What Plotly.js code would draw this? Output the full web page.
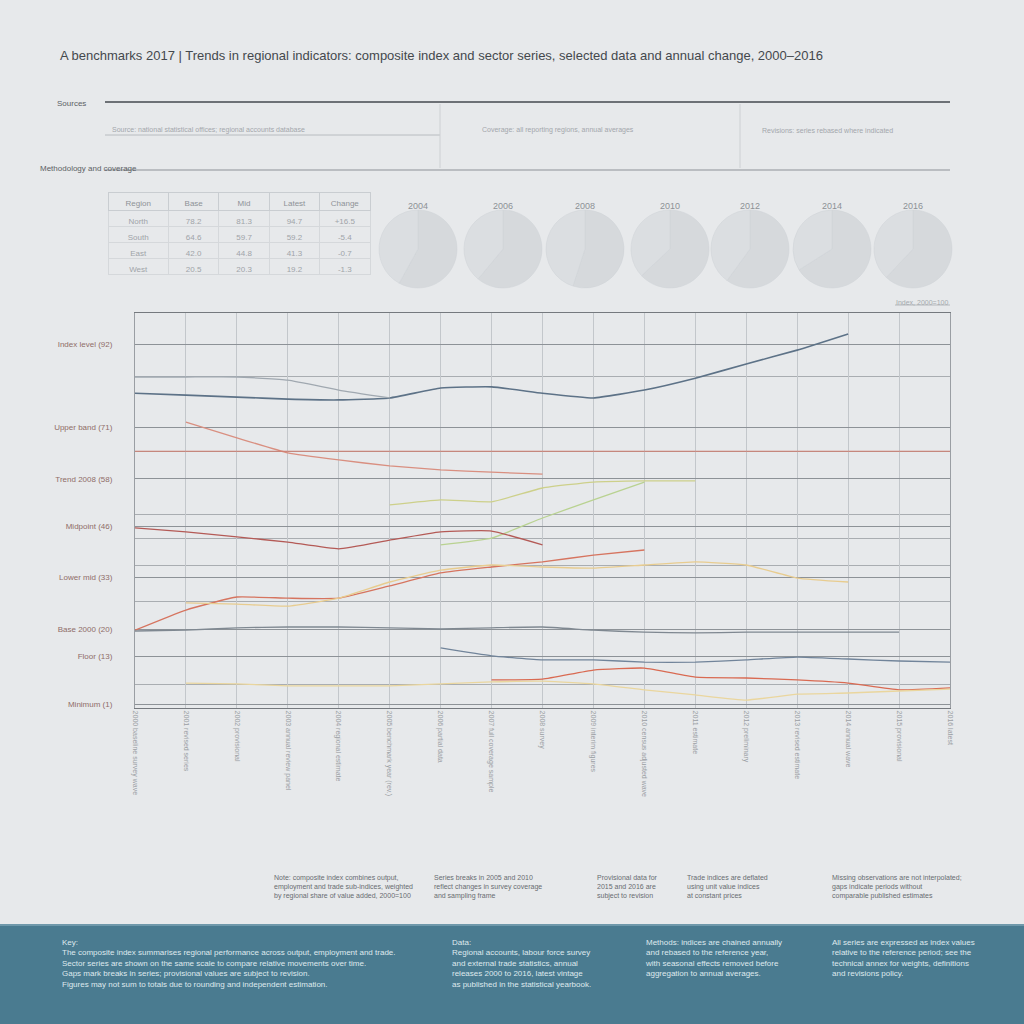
<!DOCTYPE html>
<html>
<head>
<meta charset="utf-8">
<script src="https://cdn.plot.ly/plotly-3.0.1.min.js"></script>
<style>
  html, body { margin: 0; padding: 0; background: #e7e9eb; }
  #grafico { width: 1024px; height: 1024px; }
</style>
</head>
<body>
<div id="grafico"></div>
<script>
// Datos del gráfico
const years = [2000, 2001, 2002, 2003, 2004, 2005, 2006, 2007, 2008, 2009, 2010, 2011, 2012, 2013, 2014, 2015, 2016];
const yearLabels = [
    "2000 baseline survey wave", "2001 revised series", "2002 provisional", "2003 annual review panel",
    "2004 regional estimate", "2005 benchmark year (rev.)", "2006 partial data", "2007 full coverage sample",
    "2008 survey", "2009 interim figures", "2010 census adjusted wave", "2011 estimate",
    "2012 preliminary", "2013 revised estimate", "2014 annual wave", "2015 provisional", "2016 latest"
];

const seriesNames = ["Composite index", "Composite (revised)", "Manufacturing", "Services", "Services (adj.)",
    "Construction", "Exports", "Imports", "Agriculture", "Energy", "Retail", "Transport"];
const composite = [79.7, 79.2, 78.7, 78.2, 78.0, 78.5, 81.0, 81.3, 79.7, 78.5, 80.5, 83.5, 87.1, 90.6, 94.7, null, null];
const compositeRev = [83.8, 83.8, 83.8, 83.0, 80.5, 78.5, null, null, null, null, null, null, null, null, null, null, null];
const manufacturing = [null, 72.4, 68.4, 64.6, 62.8, 61.3, 60.3, 59.7, 59.2, null, null, null, null, null, null, null, null];
const services = [null, null, null, null, null, 51.4, 52.7, 52.2, 55.7, 57.2, 57.5, 57.5, null, null, null, null, null];
const servicesAdj = [null, null, null, null, null, null, 41.3, 43.0, 48.1, 52.7, 57.2, null, null, null, null, null, null];
const construction = [45.6, 44.6, 43.3, 42.0, 40.3, 42.5, 44.6, 44.8, 41.3, null, null, null, null, null, null, null, null];
const exportsIdx = [19.7, 24.8, 28.1, 27.8, 27.8, 30.9, 34.2, 35.7, 37.0, 38.7, 40.0, null, null, null, null, null, null];
const importsIdx = [null, 26.6, 26.3, 25.8, 27.8, 31.9, 34.9, 36.2, 35.7, 35.4, 36.2, 37.0, 36.2, 32.9, 31.9, null, null];
const agriculture = [19.5, 19.7, 20.3, 20.5, 20.5, 20.3, 20.0, 20.3, 20.5, 19.7, 19.2, 19.0, 19.2, 19.2, 19.2, 19.2, null];
const energy = [null, null, null, null, null, null, 15.2, 13.2, 12.2, 12.2, 11.6, 11.6, 12.2, 12.9, 12.4, 11.9, 11.6];
const retail = [null, null, null, null, null, null, null, 7.1, 7.3, 9.6, 10.1, 7.8, 7.6, 7.1, 6.3, 4.6, 5.1];
const transport = [null, 6.3, 6.1, 5.6, 5.6, 5.6, 6.1, 6.6, 6.8, 6.1, 4.6, 3.3, 2.0, 3.5, 3.8, 4.3, 4.8];
const seriesValues = [composite, compositeRev, manufacturing, services, servicesAdj, construction,
    exportsIdx, importsIdx, agriculture, energy, retail, transport];
const seriesColors = ["#5d7287", "#a0a8b0", "#d98f80", "#cdd08a", "#b9d291", "#b45a56",
    "#d6745f", "#e8cc8f", "#7f8891", "#71849a", "#d96a52", "#ead69e"];

const yTickVals = [92, 71, 58, 46, 33, 20, 13, 1];
const yTickText = ["Index level (92)", "Upper band (71)", "Trend 2008 (58)", "Midpoint (46)",
    "Lower mid (33)", "Base 2000 (20)", "Floor (13)", "Minimum (1)"];
const yExtraLevels = [84, 65, 49, 43, 36, 27, 6];
const refLevel = 65;

const pieTitles = ["2004", "2006", "2008", "2010", "2012", "2014", "2016"];
const pieShares = [[58, 42], [61, 39], [55, 45], [63, 37], [60, 40], [66, 34], [62, 38]];

const tableHeader = ["Region", "Base", "Mid", "Latest", "Change"];
const tableCells = [
    ["North", "South", "East", "West"],
    ["78.2", "64.6", "42.0", "20.5"],
    ["81.3", "59.7", "44.8", "20.3"],
    ["94.7", "59.2", "41.3", "19.2"],
    ["+16.5", "-5.4", "-0.7", "-1.3"]
];

const topNotes = [
    "Source: national statistical offices; regional accounts database",
    "Coverage: all reporting regions, annual averages",
    "Revisions: series rebased where indicated"
];
const bottomNotes = [
    "Note: composite index combines output,<br>employment and trade sub-indices, weighted<br>by regional share of value added, 2000=100",
    "Series breaks in 2005 and 2010<br>reflect changes in survey coverage<br>and sampling frame",
    "Provisional data for<br>2015 and 2016 are<br>subject to revision",
    "Trade indices are deflated<br>using unit value indices<br>at constant prices",
    "Missing observations are not interpolated;<br>gaps indicate periods without<br>comparable published estimates"
];
const footerTexts = [
    "Key:<br>The composite index summarises regional performance across output, employment and trade.<br>Sector series are shown on the same scale to compare relative movements over time.<br>Gaps mark breaks in series; provisional values are subject to revision.<br>Figures may not sum to totals due to rounding and independent estimation.",
    "Data:<br>Regional accounts, labour force survey<br>and external trade statistics, annual<br>releases 2000 to 2016, latest vintage<br>as published in the statistical yearbook.",
    "Methods: indices are chained annually<br>and rebased to the reference year,<br>with seasonal effects removed before<br>aggregation to annual averages.",
    "All series are expressed as index values<br>relative to the reference period; see the<br>technical annex for weights, definitions<br>and revisions policy."
];

// Posiciones en píxeles convertidas a coordenadas de papel
const W = 1024;
const px = v => v / W;
const py = v => 1 - v / W;

const traces = [];
seriesValues.forEach((vals, i) => {
    traces.push({
        x: years,
        y: vals,
        type: 'scatter',
        mode: 'lines',
        name: seriesNames[i],
        line: { color: seriesColors[i], width: i === 0 ? 1.6 : 1.3, shape: 'spline', smoothing: 0.4 },
        connectgaps: false,
        hoverinfo: 'x+y+name'
    });
});

// Referencia horizontal
traces.push({
    x: [years[0], years[years.length - 1]],
    y: [refLevel, refLevel],
    type: 'scatter',
    mode: 'lines',
    line: { color: '#cf7b6c', width: 1.2 },
    hoverinfo: 'skip'
});

// Círculos como gráficos de pastel
const pieCenters = [418, 503, 585, 670, 750, 832, 913];
pieCenters.forEach((cx, i) => {
    traces.push({
        type: 'pie',
        values: pieShares[i],
        labels: ["Share", "Other"],
        sort: false,
        textinfo: 'none',
        hoverinfo: 'label+percent',
        marker: { colors: ['#d6d9dc', '#dbdee1'], line: { color: '#cfd2d6', width: 0.5 } },
        domain: { x: [px(cx - 41), px(cx + 41)], y: [py(288), py(200)] },
        title: { text: pieTitles[i], position: 'top center', font: { size: 9, color: '#8d9196' } }
    });
});

// Tabla pequeña a la izquierda
traces.push({
    type: 'table',
    domain: { x: [px(108), px(370)], y: [py(280), py(192)] },
    columnwidth: [1.2, 1, 1, 1, 1],
    header: {
        values: tableHeader,
        fill: { color: 'rgba(0,0,0,0)' },
        line: { color: '#c9cdd1', width: 1 },
        font: { size: 8, color: '#8e9297' },
        height: 18
    },
    cells: {
        values: tableCells,
        fill: { color: 'rgba(0,0,0,0)' },
        line: { color: '#d5d8db', width: 1 },
        font: { size: 8, color: '#a0a4a9' },
        height: 16
    }
});

const shapes = [
    // banda superior
    { type: 'line', xref: 'paper', yref: 'paper', x0: px(105), x1: px(950), y0: py(102), y1: py(102), line: { color: '#6d7176', width: 2 } },
    { type: 'line', xref: 'paper', yref: 'paper', x0: px(105), x1: px(950), y0: py(170), y1: py(170), line: { color: '#8e9297', width: 1.2 } },
    { type: 'line', xref: 'paper', yref: 'paper', x0: px(105), x1: px(440), y0: py(135), y1: py(135), line: { color: '#b8bcc0', width: 1 } },
    { type: 'line', xref: 'paper', yref: 'paper', x0: px(440), x1: px(440), y0: py(104), y1: py(168), line: { color: '#cdd0d3', width: 1 } },
    { type: 'line', xref: 'paper', yref: 'paper', x0: px(740), x1: px(740), y0: py(104), y1: py(168), line: { color: '#cdd0d3', width: 1 } },
    { type: 'line', xref: 'paper', yref: 'paper', x0: px(895), x1: px(950), y0: py(305), y1: py(305), line: { color: '#b4b8bc', width: 1 } },
    // pie de página
    { type: 'rect', xref: 'paper', yref: 'paper', x0: 0, x1: 1, y0: 0, y1: py(925), fillcolor: '#4a7b90', line: { width: 0 }, layer: 'below' },
    { type: 'line', xref: 'paper', yref: 'paper', x0: 0, x1: 1, y0: py(925), y1: py(925), line: { color: '#6f98aa', width: 2 } }
];

const annotations = [
    { text: "A benchmarks 2017 | Trends in regional indicators: composite index and sector series, selected data and annual change, 2000–2016",
      x: px(58), y: py(55), xref: 'paper', yref: 'paper', xanchor: 'left', yanchor: 'middle', showarrow: false,
      font: { size: 13, color: '#44484d' } },
    { text: "Sources", x: px(55), y: py(103), xref: 'paper', yref: 'paper', xanchor: 'left', yanchor: 'middle', showarrow: false,
      font: { size: 8, color: '#5b5f64' } },
    { text: "Methodology and coverage", x: px(38), y: py(168), xref: 'paper', yref: 'paper', xanchor: 'left', yanchor: 'middle', showarrow: false,
      font: { size: 8, color: '#5b5f64' } },
    { text: "Index, 2000=100", x: px(950), y: py(308), xref: 'paper', yref: 'paper', xanchor: 'right', yanchor: 'bottom', showarrow: false,
      font: { size: 7, color: '#a5a9ad' } }
];

const topNoteX = [110, 480, 760];
topNotes.forEach((t, i) => {
    annotations.push({ text: t, x: px(topNoteX[i]), y: py(130), xref: 'paper', yref: 'paper', xanchor: 'left', yanchor: 'middle',
        showarrow: false, font: { size: 7, color: '#a3a7ab' } });
});

const bottomNoteX = [272, 432, 595, 685, 830];
bottomNotes.forEach((t, i) => {
    annotations.push({ text: t, x: px(bottomNoteX[i]), y: py(872), xref: 'paper', yref: 'paper', xanchor: 'left', yanchor: 'top',
        align: 'left', showarrow: false, font: { size: 7, color: '#686c71' } });
});

const footerX = [60, 450, 643, 830];
footerTexts.forEach((t, i) => {
    annotations.push({ text: t, x: px(footerX[i]), y: py(936), xref: 'paper', yref: 'paper', xanchor: 'left', yanchor: 'top',
        align: 'left', showarrow: false, font: { size: 8, color: '#dfe9ee' } });
});

const layout = {
    width: 1024,
    height: 1024,
    margin: { l: 0, r: 0, t: 0, b: 0 },
    paper_bgcolor: '#e7e9eb',
    plot_bgcolor: 'rgba(0,0,0,0)',
    showlegend: false,
    font: { family: 'Liberation Sans, Arial, sans-serif' },
    xaxis: {
        domain: [px(135), px(950)],
        range: [2000, 2016],
        tickvals: years,
        ticktext: yearLabels,
        tickangle: 90,
        tickfont: { size: 7, color: '#9a9ea3' },
        showgrid: true,
        gridcolor: '#c3c7cb',
        gridwidth: 1,
        showline: true,
        mirror: true,
        linecolor: '#75797e',
        linewidth: 1.2,
        zeroline: false,
        ticks: '',
        automargin: false
    },
    yaxis: {
        domain: [py(708), py(313)],
        range: [0, 100],
        tickvals: yTickVals,
        ticktext: yTickText,
        tickfont: { size: 8, color: '#8f6d68' },
        ticklabelstandoff: 20,
        showgrid: true,
        gridcolor: '#8d9297',
        gridwidth: 1,
        minor: { tickvals: yExtraLevels, showgrid: true, gridcolor: '#a9adb1', gridwidth: 1 },
        showline: true,
        mirror: true,
        linecolor: '#9a9ea3',
        zeroline: false,
        ticks: '',
        automargin: false
    },
    shapes: shapes,
    annotations: annotations
};

Plotly.newPlot('grafico', traces, layout, { displayModeBar: false, staticPlot: true });
</script>
</body>
</html>
